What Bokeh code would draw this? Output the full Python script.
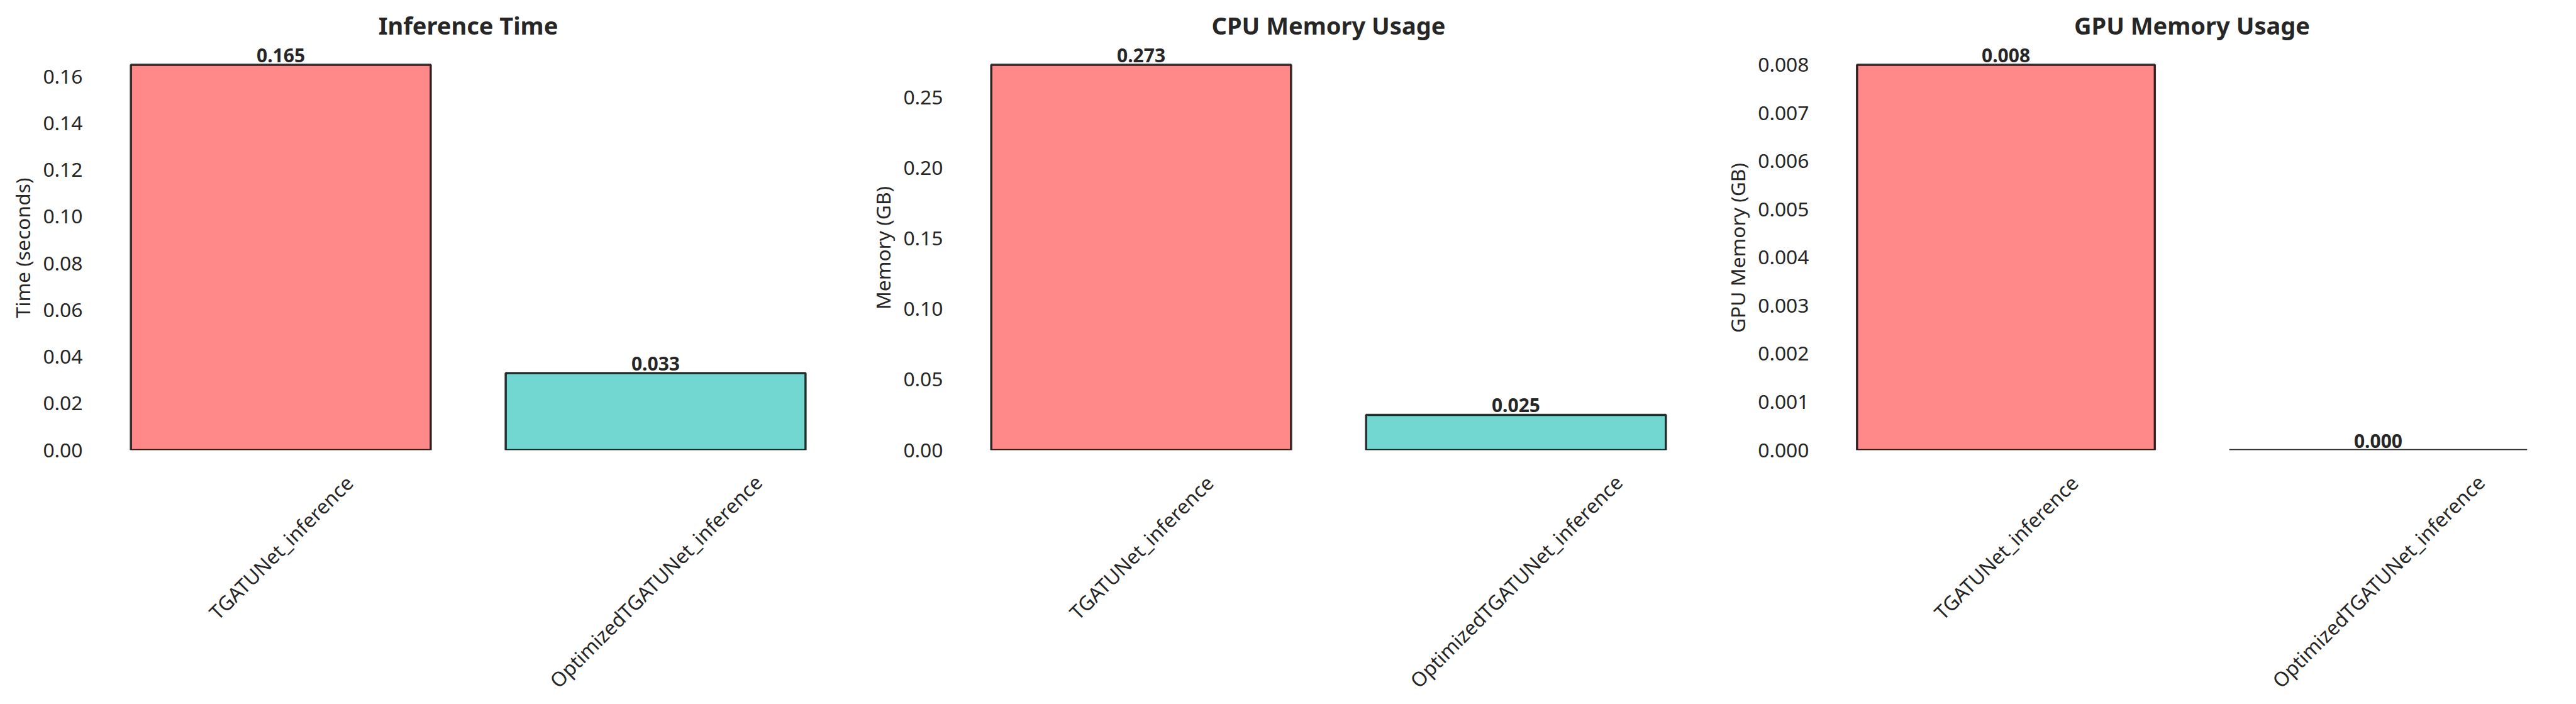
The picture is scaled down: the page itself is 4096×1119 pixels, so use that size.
import math
from bokeh.plotting import figure
from bokeh.models import Range1d, FixedTicker, PrintfTickFormatter, ColumnDataSource
from bokeh.layouts import row, column
from bokeh.embed import file_html
from bokeh.resources import INLINE
from bokeh.core.properties import value

# ---------------- data ----------------
categories = ["TGATUNet_inference", "OptimizedTGATUNet_inference"]
inference_time = [0.165, 0.033]
cpu_memory = [0.273, 0.025]
gpu_memory = [0.008, 0.000]

time_ticks = [0.00, 0.02, 0.04, 0.06, 0.08, 0.10, 0.12, 0.14, 0.16]
cpu_ticks = [0.00, 0.05, 0.10, 0.15, 0.20, 0.25]
gpu_ticks = [0.000, 0.001, 0.002, 0.003, 0.004, 0.005, 0.006, 0.007, 0.008]

titles = ["Inference Time", "CPU Memory Usage", "GPU Memory Usage"]
ylabels = ["Time (seconds)", "Memory (GB)", "GPU Memory (GB)"]
bar_colors = ["#FF6B6B", "#4ECDC4"]

# ---------------- style ----------------
FONT = "Noto Sans"
TXT = "#262626"
TICK_PX = 31.8
TOP = 72
FRAME_H = 643
BOT = 22
LABEL_H = 374


def panel(values, ticks, fmt, title, ylabel, width, left, right):
    n = len(values)
    ymax = max(values) * 1.05
    xr = Range1d(-0.4 - 0.09, n - 1 + 0.4 + 0.09)
    p = figure(width=width, height=TOP + FRAME_H + BOT,
               x_range=xr, y_range=Range1d(0, ymax),
               output_backend="svg", toolbar_location=None,
               min_border_left=left, min_border_right=right,
               min_border_top=TOP, min_border_bottom=BOT,
               title=title)
    p.outline_line_color = None
    p.grid.visible = False
    p.xaxis.visible = False

    p.title.text_font = FONT
    p.title.text_font_size = "38px"
    p.title.text_font_style = "bold"
    p.title.text_color = TXT
    p.title.align = "center"
    p.title.standoff = 13

    ax = p.yaxis[0]
    ax.ticker = FixedTicker(ticks=ticks)
    ax.formatter = PrintfTickFormatter(format=fmt)
    ax.axis_line_color = None
    ax.major_tick_line_color = None
    ax.minor_tick_line_color = None
    ax.major_tick_out = 0
    ax.major_tick_in = 0
    ax.major_label_standoff = 23
    ax.major_label_text_font = FONT
    ax.major_label_text_font_size = f"{TICK_PX}px"
    ax.major_label_text_color = TXT
    ax.axis_label = ylabel
    ax.axis_label_text_font = FONT
    ax.axis_label_text_font_size = f"{TICK_PX}px"
    ax.axis_label_text_font_style = "normal"
    ax.axis_label_text_color = TXT
    ax.axis_label_standoff = 8

    xs = list(range(n))
    src = ColumnDataSource(dict(x=xs, top=values, color=bar_colors[:n],
                                lab=[f"{v:.3f}" for v in values]))
    p.vbar(x="x", top="top", bottom=0, width=0.8, source=src,
           fill_color="color", fill_alpha=0.8,
           line_color="black", line_alpha=0.8, line_width=3.5)
    p.text(x="x", y="top", text="lab", source=src,
           text_align="center", text_baseline="alphabetic", y_offset=-15,
           text_font=value(FONT), text_font_style="bold",
           text_font_size="30px", text_color=TXT)

    # category labels, rotated 45 degrees and centred under each bar
    q = figure(width=width, height=LABEL_H, x_range=xr, y_range=Range1d(0, 1),
               output_backend="svg", toolbar_location=None,
               min_border_left=left, min_border_right=right,
               min_border_top=0, min_border_bottom=0)
    q.outline_line_color = None
    q.grid.visible = False
    q.axis.visible = False
    offs = []
    for cat in categories[:n]:
        est_len = len(cat) * 0.53 * TICK_PX
        offs.append(33.6 + 0.354 * (1.2 * TICK_PX) + 0.354 * est_len - BOT)
    lsrc = ColumnDataSource(dict(x=xs, y=[1] * n, t=categories[:n], off=offs))
    q.text(x="x", y="y", text="t", source=lsrc, angle=math.pi / 4,
           text_align="center", text_baseline="middle", y_offset="off",
           text_font=value(FONT), text_font_size=f"{TICK_PX}px",
           text_color=TXT)
    return column(p, q)


c1 = panel(inference_time, time_ticks, "%.2f", titles[0], ylabels[0], 1368, 154, 34)
c2 = panel(cpu_memory, cpu_ticks, "%.2f", titles[1], ylabels[1], 1370, 154, 36)
c3 = panel(gpu_memory, gpu_ticks, "%.3f", titles[2], ylabels[2], 1350, 153, 17)

layout = row(c1, c2, c3)
open("out.html", "w").write(file_html(layout, INLINE))
